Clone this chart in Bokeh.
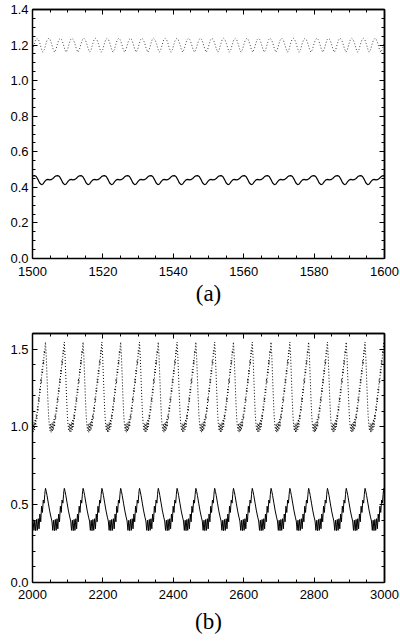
from bokeh.plotting import figure
from bokeh.models import LinearAxis, FixedTicker, Range1d, Title, PrintfTickFormatter
from bokeh.layouts import column
from bokeh.embed import file_html
from bokeh.resources import INLINE

# ---------------- panel (a) ----------------
a_x_range = (1500, 1600)
a_y_range = (0.0, 1.4)
a_xticks = [1500, 1520, 1540, 1560, 1580, 1600]
a_yticks = [0.0, 0.2, 0.4, 0.6, 0.8, 1.0, 1.2, 1.4]
a_x_minor_n, a_y_minor_n = 4, 4

# times of the maxima of the solid curve
a_solid_peaks = [1494.0, 1500.6, 1507.2, 1513.8, 1520.5, 1527.1, 1533.7, 1540.3,
                 1546.9, 1553.6, 1560.2, 1566.8, 1573.4, 1580.0, 1586.7, 1593.3,
                 1599.9, 1606.5]
# one cycle of the solid curve (fraction of cycle, value)
a_solid_phase = [0.00, 0.07, 0.14, 0.21, 0.29, 0.36, 0.43, 0.50, 0.57, 0.64,
                 0.71, 0.79, 0.86, 0.93]
a_solid_value = [0.466, 0.461, 0.445, 0.426, 0.415, 0.419, 0.432, 0.442, 0.445,
                 0.442, 0.443, 0.450, 0.459, 0.465]

# times of the maxima of the dotted curve
a_dot_peaks = [1498.0, 1501.3, 1504.6, 1507.9, 1511.2, 1514.6, 1517.9, 1521.2,
               1524.5, 1527.8, 1531.1, 1534.4, 1537.7, 1541.0, 1544.3, 1547.7,
               1551.0, 1554.3, 1557.6, 1560.9, 1564.2, 1567.5, 1570.8, 1574.1,
               1577.4, 1580.8, 1584.1, 1587.4, 1590.7, 1594.0, 1597.3, 1600.6,
               1603.9]
a_dot_phase = [0.0, 0.125, 0.25, 0.375, 0.5, 0.625, 0.75, 0.875]
a_dot_value = [1.238, 1.230, 1.207, 1.178, 1.160, 1.175, 1.205, 1.230]

# ---------------- panel (b) ----------------
b_x_range = (2000, 3000)
b_y_range = (0.0, 1.6)
b_xticks = [2000, 2200, 2400, 2600, 2800, 3000]
b_yticks = [0.0, 0.5, 1.0, 1.5]
b_x_minor_n, b_y_minor_n = 4, 5

b_peaks = [1983.6, 2037.0, 2090.4, 2143.8, 2197.2, 2250.6, 2304.0, 2357.4,
           2410.8, 2464.2, 2517.6, 2571.0, 2624.4, 2677.8, 2731.2, 2784.6,
           2838.0, 2891.4, 2944.8, 2998.2, 3051.6]

b_solid_phase = [0.00, 0.04, 0.08, 0.15, 0.22, 0.29, 0.34, 0.385, 0.43, 0.475,
                 0.52, 0.565, 0.61, 0.655, 0.70, 0.745, 0.79, 0.835, 0.88,
                 0.925, 0.96, 0.98]
b_solid_value = [0.605, 0.585, 0.560, 0.510, 0.460, 0.420, 0.395, 0.335, 0.400,
                 0.333, 0.405, 0.335, 0.410, 0.345, 0.440, 0.390, 0.490, 0.450,
                 0.530, 0.510, 0.565, 0.590]

b_dot_phase = [0.00, 0.04, 0.08, 0.12, 0.16, 0.20, 0.24, 0.27, 0.30, 0.33,
               0.36, 0.39, 0.42, 0.45, 0.48, 0.51, 0.54, 0.57, 0.60, 0.63,
               0.66, 0.69, 0.72, 0.75, 0.78, 0.81, 0.84, 0.87, 0.90, 0.93,
               0.96, 0.98]
b_dot_value = [1.545, 1.450, 1.320, 1.190, 1.080, 1.010, 0.975, 1.020, 0.965,
               1.020, 0.970, 1.030, 0.980, 1.050, 1.000, 1.080, 1.050, 1.130,
               1.100, 1.190, 1.160, 1.250, 1.220, 1.310, 1.280, 1.370, 1.340,
               1.430, 1.400, 1.490, 1.470, 1.530]


def build(peaks, phase, value):
    xs, ys = [], []
    for p0, p1 in zip(peaks[:-1], peaks[1:]):
        for ph, v in zip(phase, value):
            xs.append(p0 + ph * (p1 - p0))
            ys.append(v)
    xs.append(peaks[-1])
    ys.append(value[0])
    return xs, ys


def minors(ticks, n):
    out = []
    for t0, t1 in zip(ticks[:-1], ticks[1:]):
        out += [t0 + (t1 - t0) * k / n for k in range(1, n)]
    return out


def style_axis(ax, tick_in, minor_in, standoff):
    ax.axis_line_color = "black"
    ax.axis_line_width = 1.5
    ax.major_tick_in = tick_in
    ax.major_tick_out = 0
    ax.minor_tick_in = minor_in
    ax.minor_tick_out = 0
    ax.major_tick_line_color = "black"
    ax.minor_tick_line_color = "black"
    ax.major_tick_line_width = 1
    ax.minor_tick_line_width = 1
    ax.major_label_standoff = standoff
    ax.major_label_text_font = "Liberation Sans"
    ax.major_label_text_font_size = "13px"
    ax.major_label_text_color = "black"


def make_panel(xr, yr, xt, xn, yt, yn, height, top, bottom, xstand):
    p = figure(width=400, height=height, x_range=Range1d(*xr), y_range=Range1d(*yr),
               output_backend="svg", toolbar_location=None,
               min_border_left=32, min_border_right=16,
               min_border_top=top, min_border_bottom=bottom)
    p.xgrid.grid_line_color = None
    p.ygrid.grid_line_color = None
    p.outline_line_color = None
    p.background_fill_color = "white"
    p.border_fill_color = "white"

    xm, ym = minors(xt, xn), minors(yt, yn)
    p.xaxis[0].ticker = FixedTicker(ticks=xt, minor_ticks=xm)
    p.yaxis[0].ticker = FixedTicker(ticks=yt, minor_ticks=ym)
    p.xaxis[0].formatter = PrintfTickFormatter(format="%d")
    p.yaxis[0].formatter = PrintfTickFormatter(format="%.1f")
    style_axis(p.xaxis[0], 5, 3, xstand)
    style_axis(p.yaxis[0], 5, 3, 4)

    # mirrored ticks on top and right (no labels: every tick is a "minor" one)
    for loc, tks, mns in (("above", xt, xm), ("right", yt, ym)):
        big = LinearAxis(ticker=FixedTicker(ticks=[], minor_ticks=tks))
        small = LinearAxis(ticker=FixedTicker(ticks=[], minor_ticks=mns))
        style_axis(big, 5, 5, 0)
        style_axis(small, 3, 3, 0)
        p.add_layout(big, loc)
        p.add_layout(small, loc)
    return p


# panel (a)
pa = make_panel(a_x_range, a_y_range, a_xticks, a_x_minor_n, a_yticks, a_y_minor_n,
                312, 9, 54, 8)
ax_s, ay_s = build(a_solid_peaks, a_solid_phase, a_solid_value)
ax_d, ay_d = build(a_dot_peaks, a_dot_phase, a_dot_value)
pa.line(ax_d, ay_d, line_color="#444444", line_width=1, line_dash="1 2")
pa.line(ax_s, ay_s, line_color="black", line_width=1.2)

# panel (b)
pb = make_panel(b_x_range, b_y_range, b_xticks, b_x_minor_n, b_yticks, b_y_minor_n,
                330, 21, 60, 7)
bx_s, by_s = build(b_peaks, b_solid_phase, b_solid_value)
bx_d, by_d = build(b_peaks, b_dot_phase, b_dot_value)
pb.line(bx_d, by_d, line_color="black", line_width=1, line_dash="1 2")
pb.line(bx_s, by_s, line_color="black", line_width=1.0)

# captions "(a)" and "(b)", centred on the page
for p, txt, so in ((pa, "(a)", 0), (pb, "(b)", 10)):
    p.add_layout(Title(text=txt, align="center", offset=-8, standoff=so,
                       text_font="Liberation Serif", text_font_size="23px",
                       text_font_style="normal", text_color="black"), "below")

layout = column(pa, pb)
open("out.html", "w").write(file_html(layout, INLINE))
